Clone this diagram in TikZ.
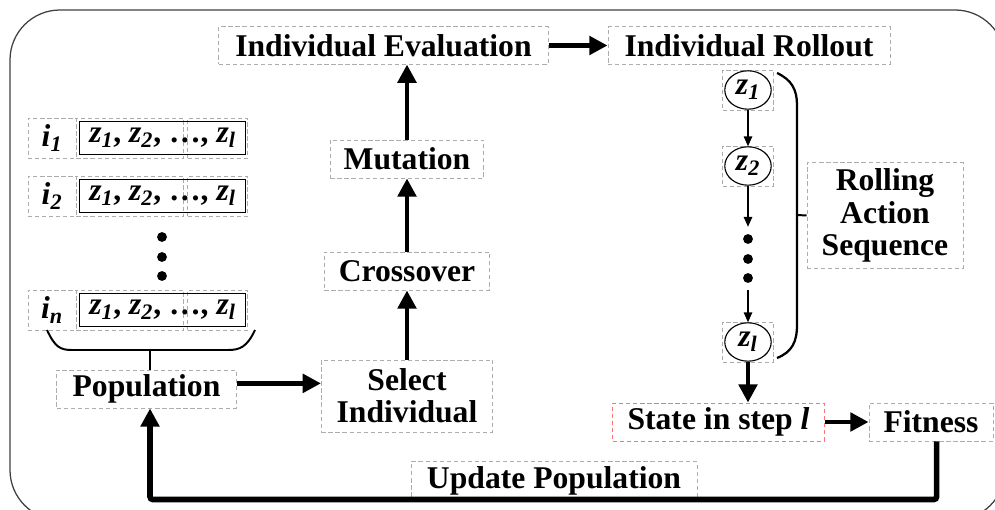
\documentclass[tikz,border=0pt]{standalone}
\usepackage{fontspec}
\setmainfont{Liberation Serif}
\usepackage{tikz}
\usetikzlibrary{arrows.meta,positioning,calc,shapes.geometric}

\newcommand{\zsub}[1]{\textit{z}\textsubscript{\textit{#1}}}

\begin{document}
\begin{tikzpicture}[x=0.025cm,y=-0.025cm,font=\fontsize{22.5}{23}\selectfont\bfseries,
   bx/.style={draw=gray!65,dash pattern=on 3pt off 2pt,line width=0.6pt,inner sep=0pt,align=center},
   ar/.style={line width=3.5pt,-{Triangle[length=13pt,width=13pt]}},
   sa/.style={line width=1pt,-{Triangle[length=7pt,width=6pt]}},
   zc/.style={ellipse,draw,line width=0.8pt,minimum width=1.16cm,minimum height=0.96cm,inner sep=0pt},
   dt/.style={circle,fill,inner sep=0pt,minimum size=7pt}]
  \useasboundingbox (0,0) rectangle (995,510);
  \clip (0,0) rectangle (995,510);
  \draw[black!75,line width=0.9pt,rounded corners=1.25cm] (10,10) rectangle (1005,520);
  % main loop
  \node[bx,minimum width=8.23cm,minimum height=0.93cm] (ev) at (383.5,45.5) {Individual Evaluation};
  \node[bx,minimum width=7.05cm,minimum height=0.93cm] (ro) at (749,45.5) {Individual Rollout};
  \node[bx,minimum width=3.83cm,minimum height=0.95cm] (mu) at (407,159) {Mutation};
  \node[bx,minimum width=4.13cm,minimum height=0.95cm] (cr) at (407,271) {Crossover};
  \node[bx,minimum width=4.28cm,minimum height=1.8cm] (se) at (407,396) {Select\\Individual};
  \node[bx,minimum width=4.48cm,minimum height=0.95cm] (po) at (146.5,389) {Population};
  \node[bx,draw=red!55,minimum width=5.28cm,minimum height=0.95cm] (st) at (718.5,422) {State in step \textit{l}};
  \node[bx,minimum width=3.1cm,minimum height=0.95cm] (fi) at (931,422) {Fitness};
  \node[bx,minimum width=7.15cm,minimum height=0.93cm] (up) at (554,480.5) {Update Population};
  \node[bx,minimum width=3.9cm,minimum height=2.63cm] (rs) at (885,215.5) {Rolling\\Action\\Sequence};
  \coordinate (pe) at ([yshift=4pt]po.east);
  \coordinate (pb) at ([xshift=2.5pt]po.south);
  % population rows
  \foreach \y/\s in {138/1,196/2,310/n}{
    \node[bx,minimum width=1.2cm,minimum height=1cm] (i\s) at (52,\y) {\textit{i}\textsubscript{\textit{\s}}};
    \node[bx,minimum width=2.68cm,minimum height=1cm,anchor=west] (za\s) at (76,\y) {};
    \node[bx,minimum width=1.5cm,minimum height=1cm,anchor=east] (zb\s) at (248,\y) {};
    \node[draw,line width=0.8pt,minimum width=4.13cm,minimum height=0.83cm,inner sep=0pt] (z\s) at (162.5,\y) {\zsub{1}, \zsub{2}, \dots, \zsub{l}};
  }
  \foreach \y/\k in {237/1,257/2,276/3} \node[dt] (pd\k) at (162,\y) {};
  % rollout column
  \foreach \y/\s in {90/1,166/2,342/l}{
    \node[bx,minimum width=1.27cm,minimum height=1cm] (bz\s) at (748,\y) {};
    \node[zc] (c\s) at (748,\y) {\zsub{\s}};
  }
  \foreach \y/\k in {239/1,259/2,278/3} \node[dt] (rd\k) at (748,\y) {};
  \draw[sa] (c1) -- (c2);
  \draw[sa] (c2) -- ([yshift=5pt]rd1.north);
  \draw[sa] ([yshift=-5pt]rd3.south) -- (cl);
  % braces
  \coordinate (bs) at (150,350);
  \draw[line width=1.4pt] (47,330) .. controls (55,347) and (60,350) .. (72,350) -- (228,350)
     .. controls (240,350) and (247,347) .. (255,330);
  \draw[line width=1.4pt] (bs) -- (bs |- po.north);
  \draw[line width=1.6pt] (777,73) .. controls (792,80) and (797,90) .. (797,105) -- (797,325)
     .. controls (797,342) and (792,352) .. (777,358);
  \draw[line width=1.4pt] (797,215) -- (rs.west);
  % arrows
  \draw[ar] (ev) -- (ro);
  \draw[ar] (mu) -- (mu |- ev.south);
  \draw[ar] (cr) -- (mu);
  \draw[ar] (se) -- (cr);
  \draw[ar] (pe) -- (se.west |- pe);
  \draw[ar] (cl.south) -- (cl.south |- st.north);
  \draw[ar] (st) -- (fi);
  \draw[ar,line width=4pt,rounded corners=2pt] ([xshift=4pt]fi.south) |- (up.south) -| (pb);
\end{tikzpicture}
\end{document}
